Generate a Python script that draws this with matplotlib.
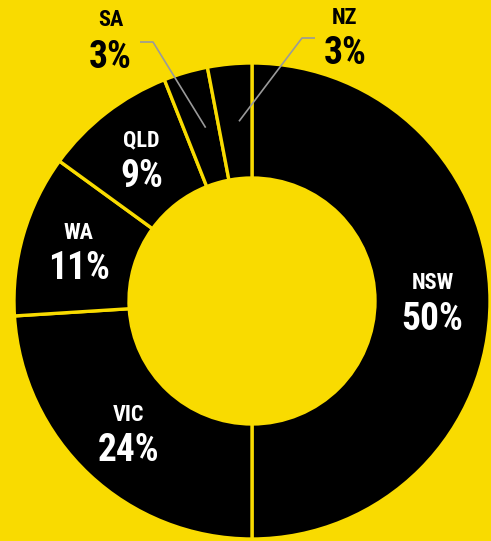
import matplotlib
matplotlib.use("Agg")
import matplotlib.pyplot as plt
from matplotlib import font_manager
from matplotlib.font_manager import FontProperties
import numpy as np

regions = ["NSW", "VIC", "WA", "QLD", "SA", "NZ"]
shares = [50, 24, 11, 9, 3, 3]
pct_labels = ["50%", "24%", "11%", "9%", "3%", "3%"]

YELLOW = "#F9DB00"


def _w(v):
    if isinstance(v, (int, float)):
        return v
    return {"bold": 700, "semibold": 600, "demibold": 600, "heavy": 800,
            "extra bold": 800, "black": 900}.get(str(v).lower(), 400)


def _narrow(f):
    n = f.name
    st = str(f.stretch).lower()
    return ("Narrow" in n or "Condensed" in n or "condensed" in st or
            (isinstance(f.stretch, (int, float)) and f.stretch < 500))


pref = ["Liberation Sans Narrow", "Roboto Condensed", "Open Sans Condensed",
        "DejaVu Sans", "Noto Sans", "Inter", "Lato", "Roboto", "Open Sans"]
best = None
for f in font_manager.fontManager.ttflist:
    if "Mono" in f.name or "Serif" in f.name or "CJK" in f.name:
        continue
    if str(f.style) != "normal":
        continue
    if not _narrow(f):
        continue
    w = _w(f.weight)
    if w < 600 or w > 800:
        continue
    rank = next((i for i, p in enumerate(pref) if f.name.startswith(p)), 99)
    key = (rank, abs(w - 700))
    if best is None or key < best[0]:
        best = (key, f.fname)

if best:
    FP = dict(fontproperties=FontProperties(fname=best[1]))
else:
    FP = dict(family=["Liberation Sans", "DejaVu Sans"], fontweight="bold")

fig = plt.figure(figsize=(4.91, 5.41), dpi=100, facecolor=YELLOW)
ax = fig.add_axes([0, 0, 1, 1])
ax.set_facecolor(YELLOW)

cx, cy = 252, 541 - 301
R = 238
r_in = 123
wedges, _ = ax.pie(shares, startangle=90, counterclock=False, center=(cx, cy),
                   radius=R, colors=["black"] * len(shares),
                   wedgeprops=dict(width=R - r_in, edgecolor=YELLOW, linewidth=2.4),
                   frame=True)
ax.set_xlim(0, 491)
ax.set_ylim(0, 541)
ax.set_aspect("equal")
ax.axis("off")

r_mid = (R + r_in) / 2
outside = {"SA": ((111, 541 - 20), (110, 541 - 57), [(140, 541 - 42), (153, 541 - 42)]),
           "NZ": ((345, 541 - 18), (345, 541 - 53), [(315, 541 - 38), (302, 541 - 38)])}


def label(x, y, s, color, size):
    t = ax.text(x, y, s, ha="center", va="center", color=color, **FP)
    t.set_fontsize(size)
    return t


for w, name, pct in zip(wedges, regions, pct_labels):
    th = np.deg2rad((w.theta1 + w.theta2) / 2)
    mx = cx + r_mid * np.cos(th)
    my = cy + r_mid * np.sin(th)
    if name in outside:
        npos, ppos, pts = outside[name]
        xs = [p[0] for p in pts] + [mx + 4]
        ys = [p[1] for p in pts] + [my]
        ax.plot(xs, ys, color="#9a9a9a", lw=1.2, solid_capstyle="butt")
        label(*npos, name, "black", 16)
        label(*ppos, pct, "black", 27)
    else:
        label(mx, my + 18, name, "white", 16)
        label(mx, my - 18, pct, "white", 27)

fig.savefig("out.png", dpi=100, facecolor=YELLOW)
